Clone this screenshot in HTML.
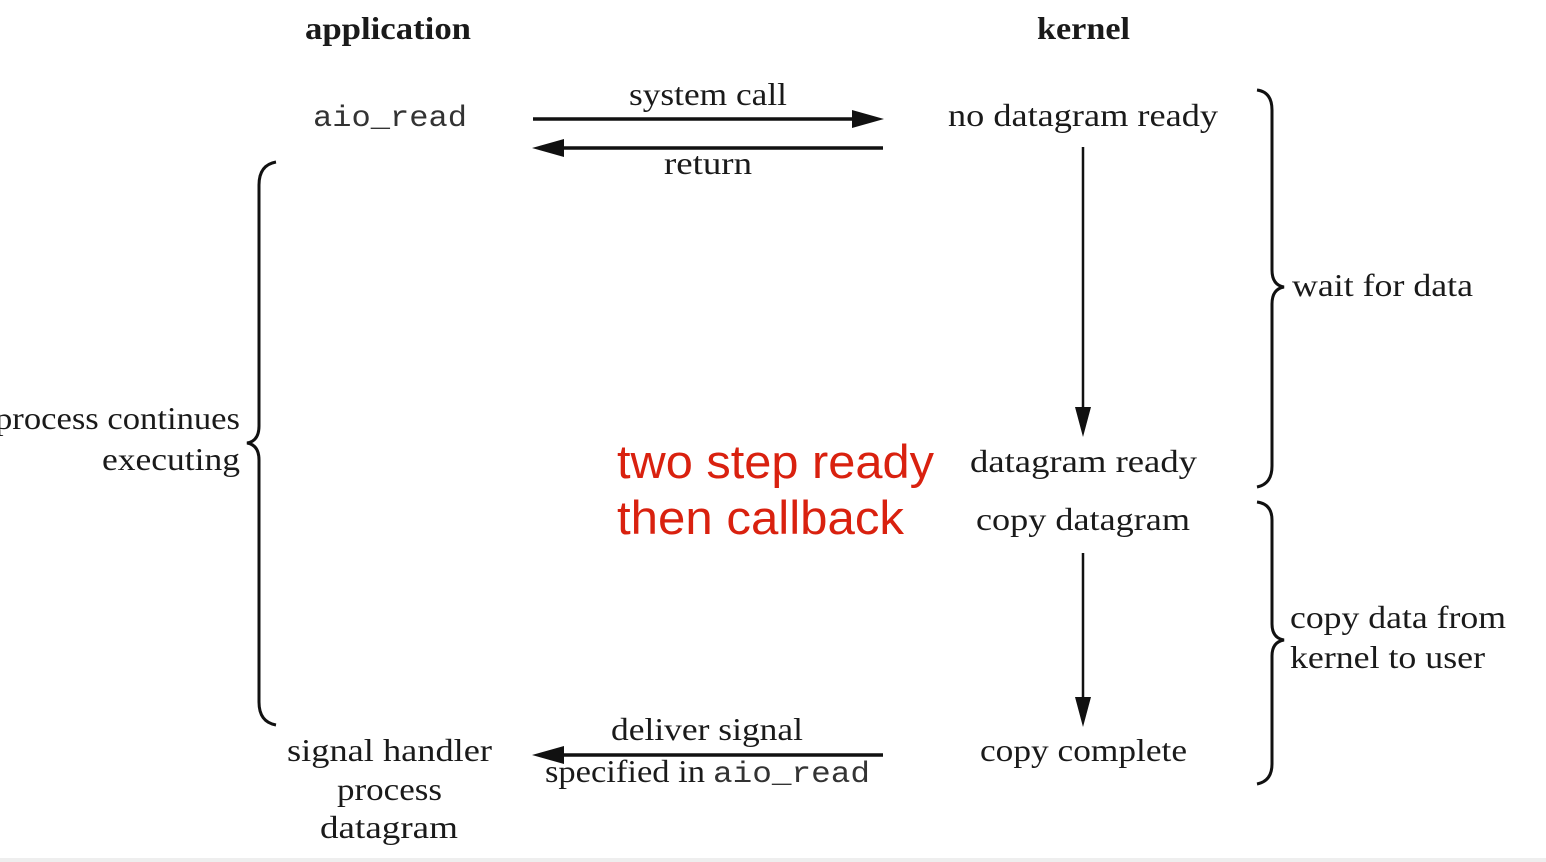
<!DOCTYPE html>
<html><head><meta charset="utf-8"><style>
html,body{margin:0;padding:0;background:#fff;}
svg{display:block;}
.s{font-family:"Liberation Serif",serif;font-size:32px;fill:#1a1a1a;}
.m{font-family:"Liberation Mono",monospace;font-size:30px;fill:#333;}
.r{font-family:"Liberation Sans",sans-serif;font-size:47px;fill:#d9210f;}
</style></head><body>
<svg width="1546" height="862" viewBox="0 0 1546 862" xmlns="http://www.w3.org/2000/svg">
<rect x="0" y="858" width="1546" height="4" fill="#eee"/>
<text class="s" x="305" y="39" font-weight="bold" textLength="166" lengthAdjust="spacingAndGlyphs">application</text>
<text class="s" x="1037" y="39" font-weight="bold" textLength="93" lengthAdjust="spacingAndGlyphs">kernel</text>
<text class="m" x="313" y="126" textLength="154" lengthAdjust="spacingAndGlyphs">aio_read</text>
<text class="s" x="629" y="105" textLength="158" lengthAdjust="spacingAndGlyphs">system call</text>
<line x1="533" y1="119" x2="860" y2="119" stroke="#111" stroke-width="3.5"/>
<polygon points="884,119 852,110 852,128" fill="#111"/>
<line x1="556" y1="148" x2="883" y2="148" stroke="#111" stroke-width="3.5"/>
<polygon points="532,148 564,139 564,157" fill="#111"/>
<text class="s" x="664" y="174" textLength="88" lengthAdjust="spacingAndGlyphs">return</text>
<text class="s" x="948" y="126" textLength="270" lengthAdjust="spacingAndGlyphs">no datagram ready</text>
<line x1="1083" y1="147" x2="1083" y2="412" stroke="#111" stroke-width="2.5"/>
<polygon points="1083,437 1075,407 1091,407" fill="#111"/>
<text class="s" x="970" y="472" textLength="227" lengthAdjust="spacingAndGlyphs">datagram ready</text>
<text class="s" x="976" y="530" textLength="214" lengthAdjust="spacingAndGlyphs">copy datagram</text>
<line x1="1083" y1="553" x2="1083" y2="702" stroke="#111" stroke-width="2.5"/>
<polygon points="1083,727 1075,697 1091,697" fill="#111"/>
<text class="s" x="980" y="761" textLength="207" lengthAdjust="spacingAndGlyphs">copy complete</text>
<path d="M1257,90 Q1272,92 1272,110 L1272,270 Q1272,285 1284,287 Q1272,289 1272,304 L1272,466 Q1272,484 1257,487" fill="none" stroke="#111" stroke-width="3"/>
<text class="s" x="1292" y="296" textLength="181" lengthAdjust="spacingAndGlyphs">wait for data</text>
<path d="M1257,502 Q1272,504 1272,520 L1272,624 Q1272,638 1284,640 Q1272,642 1272,656 L1272,764 Q1272,781 1257,784" fill="none" stroke="#111" stroke-width="3"/>
<text class="s" x="1290" y="628" textLength="216" lengthAdjust="spacingAndGlyphs">copy data from</text>
<text class="s" x="1290" y="668" textLength="195" lengthAdjust="spacingAndGlyphs">kernel to user</text>
<path d="M276,162 Q259,165 259,185 L259,426 Q259,441 247,443 Q259,445 259,460 L259,702 Q259,722 276,725" fill="none" stroke="#111" stroke-width="3"/>
<text class="s" x="-5" y="429" textLength="245" lengthAdjust="spacingAndGlyphs">process continues</text>
<text class="s" x="102" y="470" textLength="138" lengthAdjust="spacingAndGlyphs">executing</text>
<text class="r" x="617" y="478" textLength="317" lengthAdjust="spacingAndGlyphs">two step ready</text>
<text class="r" x="617" y="534" textLength="287" lengthAdjust="spacingAndGlyphs">then callback</text>
<text class="s" x="611" y="740" textLength="192" lengthAdjust="spacingAndGlyphs">deliver signal</text>
<line x1="556" y1="755" x2="883" y2="755" stroke="#111" stroke-width="3.5"/>
<polygon points="532,755 564,746 564,764" fill="#111"/>
<text class="s" x="545" y="782" textLength="160" lengthAdjust="spacingAndGlyphs">specified in</text>
<text class="m" x="713" y="782" textLength="157" lengthAdjust="spacingAndGlyphs">aio_read</text>
<text class="s" x="287" y="761" textLength="205" lengthAdjust="spacingAndGlyphs">signal handler</text>
<text class="s" x="337" y="800" textLength="105" lengthAdjust="spacingAndGlyphs">process</text>
<text class="s" x="320" y="838" textLength="138" lengthAdjust="spacingAndGlyphs">datagram</text>
</svg>
</body></html>
